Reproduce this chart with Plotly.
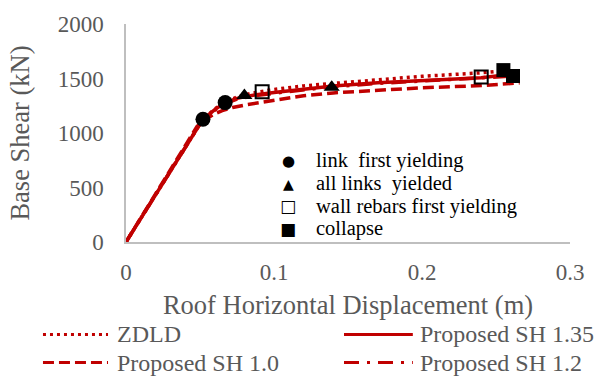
import plotly.graph_objects as go

RED = "#c00000"
GREY_TXT = "#595959"
SERIF = "Liberation Serif"

# Pushover curves: roof displacement (m) vs base shear (kN)
zdld_x = [0, 0.052, 0.060, 0.067, 0.075, 0.085, 0.10, 0.12, 0.14, 0.17, 0.20, 0.24, 0.256]
zdld_y = [0, 1126, 1220, 1285, 1330, 1365, 1400, 1432, 1455, 1490, 1520, 1552, 1572]

sh135_x = [0, 0.052, 0.060, 0.067, 0.075, 0.085, 0.10, 0.12, 0.14, 0.17, 0.20, 0.24, 0.256]
sh135_y = [0, 1126, 1215, 1279, 1318, 1345, 1372, 1400, 1432, 1462, 1482, 1508, 1532]

sh10_x = [0, 0.048, 0.053, 0.059, 0.065, 0.072, 0.082, 0.10, 0.12, 0.14, 0.17, 0.20, 0.24, 0.266]
sh10_y = [0, 1060, 1120, 1170, 1205, 1234, 1261, 1300, 1342, 1368, 1395, 1415, 1435, 1460]

sh12_x = [0, 0.052, 0.060, 0.067, 0.075, 0.085, 0.10, 0.12, 0.14, 0.17, 0.20, 0.24, 0.2615]
sh12_y = [0, 1126, 1210, 1270, 1310, 1338, 1365, 1393, 1425, 1455, 1478, 1503, 1522]

# Damage-state events
link_first_x = [0.052, 0.067]
link_first_y = [1126, 1279]
all_links_x = [0.080, 0.139]
all_links_y = [1345, 1420]
wall_rebar_x = [0.092, 0.240]
wall_rebar_y = [1378, 1513]
collapse_x = [0.255, 0.2615]
collapse_y = [1577, 1523]

x_ticks = [0, 0.1, 0.2, 0.3]
y_ticks = [0, 500, 1000, 1500, 2000]

series = [
    ("Proposed SH 1.2", sh12_x, sh12_y, "15px,8px,3px,8px"),
    ("Proposed SH 1.0", sh10_x, sh10_y, "11px,5px"),
    ("ZDLD", zdld_x, zdld_y, "3px,4px"),
    ("Proposed SH 1.35", sh135_x, sh135_y, "solid"),
]

fig = go.Figure()
for name, xs, ys, dash in series:
    fig.add_trace(go.Scatter(x=xs, y=ys, mode="lines", name=name,
                             line=dict(color=RED, width=3.5, dash=dash),
                             showlegend=False))

events = [
    (link_first_x, link_first_y, dict(symbol="circle", size=15, color="black")),
    (all_links_x, all_links_y, dict(symbol="triangle-up", size=14, color="black")),
    (wall_rebar_x, wall_rebar_y, dict(symbol="square-open", size=13, color="black",
                                      line=dict(width=2, color="black"))),
    (collapse_x, collapse_y, dict(symbol="square", size=14, color="black")),
]
for xs, ys, mk in events:
    fig.add_trace(go.Scatter(x=xs, y=ys, mode="markers", marker=mk, showlegend=False))

# Line legend below the plot (two columns)
line_legend = [
    ("ZDLD", "3px,4px", -0.187, -0.0405, -0.024, -0.424),
    ("Proposed SH 1.35", "solid", 0.491, 0.646, 0.658, -0.424),
    ("Proposed SH 1.0", "11px,5px", -0.187, -0.0405, -0.024, -0.553),
    ("Proposed SH 1.2", "15px,8px,3px,8px", 0.491, 0.646, 0.658, -0.553),
]
for label, dash, x0, x1, xt, yy in line_legend:
    fig.add_shape(type="line", xref="paper", yref="paper", x0=x0, x1=x1, y0=yy, y1=yy,
                  line=dict(color=RED, width=3, dash=dash))
    fig.add_annotation(xref="paper", yref="paper", x=xt, y=yy, text=label,
                       showarrow=False, xanchor="left", yanchor="middle",
                       font=dict(family=SERIF, size=24, color=GREY_TXT))

# Event legend inside the plot
event_legend = [
    ("\u25CF", "link  first yielding", 0.3716, 15),
    ("\u25B2", "all links  yielded", 0.268, 14),
    ("\u25A1", "wall rebars first yielding", 0.164, 17),
    ("\u25A0", "collapse", 0.0608, 17),
]
for glyph, label, yy, gsize in event_legend:
    fig.add_annotation(xref="paper", yref="paper", x=0.365, y=yy, text=glyph,
                       showarrow=False, xanchor="center", yanchor="middle",
                       font=dict(family="DejaVu Sans", size=gsize, color="black"))
    fig.add_annotation(xref="paper", yref="paper", x=0.424, y=yy, text=label,
                       showarrow=False, xanchor="left", yanchor="middle",
                       font=dict(family=SERIF, size=20.5, color="black"))

fig.update_layout(
    width=603, height=379,
    margin=dict(l=126, r=33, t=20, b=137),
    paper_bgcolor="white", plot_bgcolor="white",
    font=dict(family=SERIF, color=GREY_TXT),
    xaxis=dict(range=[0, 0.3], tickvals=x_ticks, ticktext=[str(v) for v in x_ticks],
               showgrid=False, zeroline=False, showline=True, linecolor="#bfbfbf",
               linewidth=1.5, ticks="", tickfont=dict(family=SERIF, size=23, color=GREY_TXT),
               ticklabelstandoff=9,
               title=dict(text="Roof Horizontal Displacement (m)", standoff=11,
                          font=dict(family=SERIF, size=26.5, color=GREY_TXT))),
    yaxis=dict(range=[0, 2000], tickvals=y_ticks, ticktext=[str(v) for v in y_ticks],
               showgrid=False, zeroline=False, showline=True, linecolor="#bfbfbf",
               linewidth=1.5, ticks="", tickfont=dict(family=SERIF, size=23, color=GREY_TXT),
               ticklabelstandoff=16,
               title=dict(text="Base Shear (kN)", standoff=20,
                          font=dict(family=SERIF, size=26.5, color=GREY_TXT))),
)

fig.write_html("out.html")
